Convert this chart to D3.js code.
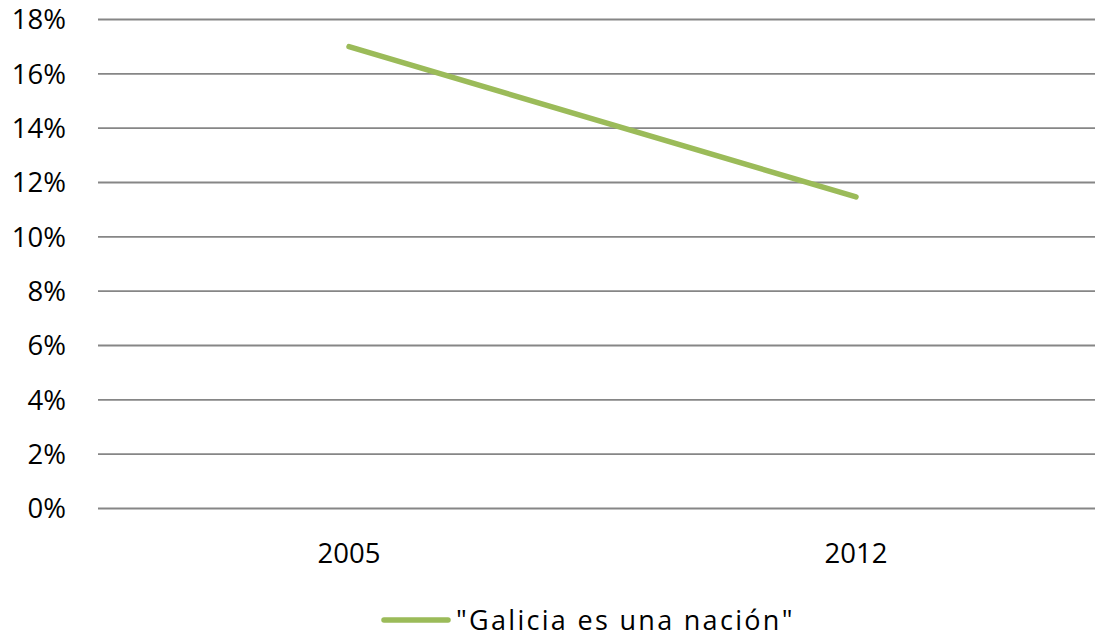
<!DOCTYPE html>
<html lang="es">
<head>
<meta charset="utf-8" />
<title>Galicia es una nación</title>
<script src="https://d3js.org/d3.v7.min.js"></script>
<style>
    body { margin: 0; background: #fff; }
    svg text { font-family: "Open Sans", sans-serif; fill: #000; }
</style>
</head>
<body>
<script>
// data
const years = ["2005", "2012"];
const values = [17.0, 11.47];
const yTicks = [0, 2, 4, 6, 8, 10, 12, 14, 16, 18];
const seriesName = "\"Galicia es una nación\"";

const W = 1097, H = 637;
const svg = d3.select("body").append("svg")
    .attr("width", W)
    .attr("height", H);

const plotLeft = 98, plotRight = 1095;

const x = d3.scalePoint()
    .domain(years)
    .range([349, 856]);

const y = d3.scaleLinear()
    .domain([0, 18])
    .range([508.5, 19.5]);

// gridlines
svg.append("g")
    .selectAll("line")
    .data(yTicks)
    .join("line")
    .attr("x1", plotLeft)
    .attr("x2", plotRight)
    .attr("y1", d => y(d))
    .attr("y2", d => y(d))
    .attr("stroke", "#868686")
    .attr("stroke-width", 1.8);

// y labels
svg.append("g")
    .selectAll("text")
    .data(yTicks)
    .join("text")
    .attr("x", 66)
    .attr("y", d => y(d))
    .attr("dy", "0.36em")
    .attr("text-anchor", "end")
    .attr("font-size", 27.5)
    .text(d => d + "%");

// x labels
svg.append("g")
    .selectAll("text")
    .data(years)
    .join("text")
    .attr("x", d => x(d))
    .attr("y", 563)
    .attr("text-anchor", "middle")
    .attr("font-size", 27.5)
    .text(d => d);

// series line
const line = d3.line()
    .x((d, i) => x(years[i]))
    .y(d => y(d));

svg.append("path")
    .datum(values)
    .attr("d", line)
    .attr("fill", "none")
    .attr("stroke", "#9BBB59")
    .attr("stroke-width", 5.5)
    .attr("stroke-linecap", "round");

// legend
const legend = svg.append("g");
legend.append("line")
    .attr("x1", 384)
    .attr("x2", 448)
    .attr("y1", 620)
    .attr("y2", 620)
    .attr("stroke", "#9BBB59")
    .attr("stroke-width", 5.5)
    .attr("stroke-linecap", "round");
legend.append("text")
    .attr("x", 456)
    .attr("y", 630)
    .attr("font-size", 27)
    .attr("letter-spacing", 2.3)
    .text(seriesName);
</script>
</body>
</html>
